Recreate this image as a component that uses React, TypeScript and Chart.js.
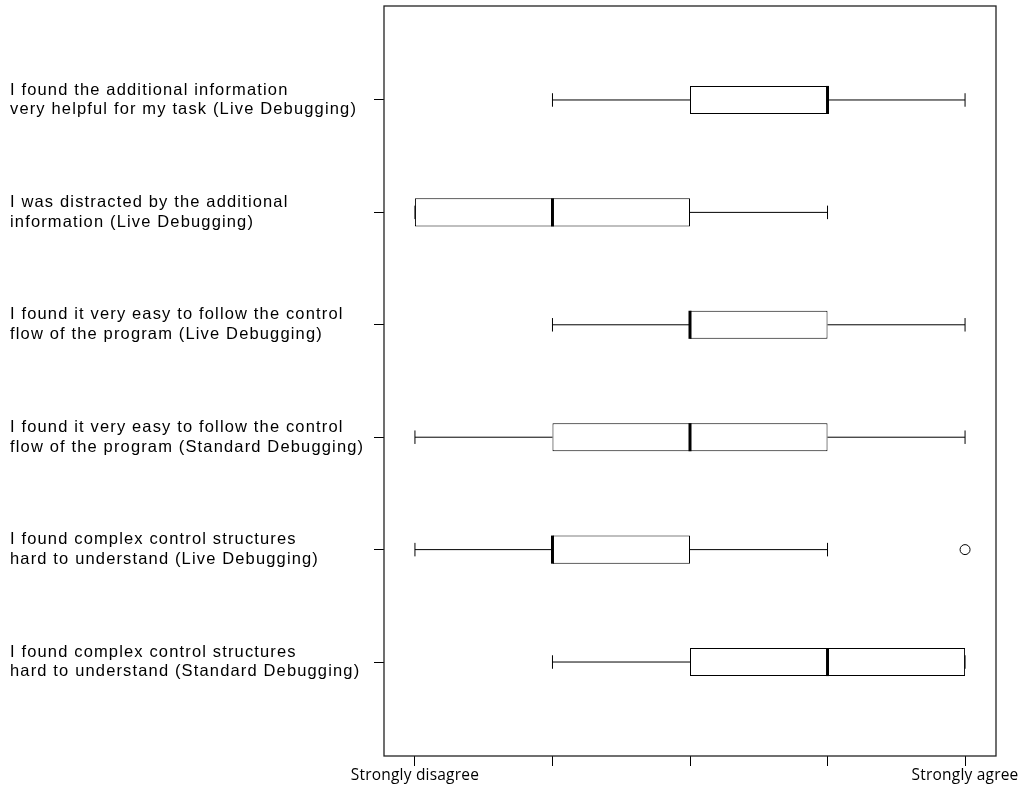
import { useEffect, useRef } from "react";
import { Chart, registerables } from "chart.js";

Chart.register(...registerables);

const categories: string[][] = [
  ["I found the additional information", "very helpful for my task (Live Debugging)"],
  ["I was distracted by the additional", "information (Live Debugging)"],
  ["I found it very easy to follow the control", "flow of the program (Live Debugging)"],
  ["I found it very easy to follow the control", "flow of the program (Standard Debugging)"],
  ["I found complex control structures", "hard to understand (Live Debugging)"],
  ["I found complex control structures", "hard to understand (Standard Debugging)"],
];
const positions = [1, 2, 3, 4, 5, 6];
const whiskerLow = [2, 1, 2, 1, 1, 2];
const q1 = [3, 1, 3, 2, 2, 3];
const median = [4, 2, 3, 3, 2, 4];
const q3 = [4, 3, 4, 4, 3, 5];
const whiskerHigh = [5, 4, 5, 5, 4, 5];
const outlierPos = [5];
const outlierVal = [5];
const xTickValues = [1, 2, 3, 4, 5];
const xTickLabels = ["Strongly disagree", "", "", "", "Strongly agree"];

const boxPartsPlugin = {
  id: "boxParts",
  beforeDraw(chart: any) {
    chart.ctx.letterSpacing = "1.15px";
  },
  beforeDatasetsDraw(chart: any) {
    chart.ctx.letterSpacing = "0px";
  },
  afterDatasetsDraw(chart: any) {
    const { ctx } = chart;
    const x = chart.scales.x;
    const y = chart.scales.y;
    ctx.save();
    ctx.strokeStyle = "#000";
    positions.forEach((p, i) => {
      const py = y.getPixelForValue(p);
      const capH = Math.abs(y.getPixelForValue(p + 0.06) - py);
      const boxH = Math.abs(y.getPixelForValue(p + 0.125) - py);
      const xl = x.getPixelForValue(whiskerLow[i]);
      const xq1 = x.getPixelForValue(q1[i]);
      const xq3 = x.getPixelForValue(q3[i]);
      const xh = x.getPixelForValue(whiskerHigh[i]);
      const xm = x.getPixelForValue(median[i]);
      ctx.lineWidth = 1;
      ctx.beginPath();
      ctx.moveTo(xl, py);
      ctx.lineTo(xq1, py);
      ctx.moveTo(xq3, py);
      ctx.lineTo(xh, py);
      ctx.moveTo(xl, py - capH);
      ctx.lineTo(xl, py + capH);
      ctx.moveTo(xh, py - capH);
      ctx.lineTo(xh, py + capH);
      ctx.stroke();
      ctx.lineWidth = 3;
      ctx.beginPath();
      ctx.moveTo(xm, py - boxH);
      ctx.lineTo(xm, py + boxH);
      ctx.stroke();
    });
    const a = chart.chartArea;
    ctx.lineWidth = 1.3;
    ctx.strokeStyle = "#222";
    ctx.strokeRect(a.left, a.top, a.right - a.left, a.bottom - a.top);
    ctx.restore();
    ctx.letterSpacing = "0.2px";
  },
  afterDraw(chart: any) {
    chart.ctx.letterSpacing = "0px";
  },
};

export default function App() {
  const ref = useRef<HTMLCanvasElement | null>(null);
  useEffect(() => {
    if (!ref.current) return;
    const chart = new Chart(ref.current, {
      type: "bar",
      data: {
        datasets: [
          {
            type: "bar",
            data: positions.map((p, i) => ({ y: p, x: [q1[i], q3[i]] })) as any,
            backgroundColor: "#fff",
            borderColor: "#000",
            borderWidth: 1,
            borderSkipped: false,
            barPercentage: 0.25,
            categoryPercentage: 1,
          } as any,
          {
            type: "scatter",
            data: outlierPos.map((p, i) => ({ x: outlierVal[i], y: p })),
            pointRadius: 5,
            pointStyle: "circle",
            borderColor: "#000",
            backgroundColor: "rgba(0,0,0,0)",
            borderWidth: 1,
            showLine: false,
          } as any,
        ],
      },
      options: {
        animation: false,
        responsive: true,
        maintainAspectRatio: false,
        indexAxis: "y",
        layout: { padding: { left: 10, top: 6, right: 22, bottom: 0 } },
        plugins: { legend: { display: false }, tooltip: { enabled: false } },
        scales: {
          x: {
            type: "linear",
            min: 0.775,
            max: 5.225,
            offset: false,
            afterBuildTicks: (s: any) => {
              s.ticks = xTickValues.map((v) => ({ value: v }));
            },
            afterFit: (s: any) => {
              s.height = 31;
              s.paddingLeft = 0;
              s.paddingRight = 0;
            },
            grid: { drawOnChartArea: false, offset: false, tickLength: 10, color: "#000", lineWidth: 1 },
            border: { display: false },
            ticks: {
              autoSkip: false,
              maxRotation: 0,
              padding: 0,
              z: 1,
              color: "#000",
              font: { family: "'Open Sans', 'Noto Sans', sans-serif", size: 15.5 },
              callback: (v: any) => xTickLabels[xTickValues.indexOf(Number(v))],
            },
          },
          y: {
            type: "linear",
            reverse: true,
            min: 0.164,
            max: 6.836,
            offset: false,
            afterBuildTicks: (s: any) => {
              s.ticks = positions.map((v) => ({ value: v }));
            },
            afterFit: (s: any) => {
              s.width = 374;
              s.paddingTop = 0;
              s.paddingBottom = 0;
            },
            grid: { drawOnChartArea: false, offset: false, tickLength: 10, color: "#000", lineWidth: 1 },
            border: { display: false },
            ticks: {
              autoSkip: false,
              crossAlign: "far",
              color: "#000",
              font: { family: "'Liberation Sans', Arial, sans-serif", size: 16.5, lineHeight: 1.2 },
              callback: (v: any) => categories[positions.indexOf(Number(v))],
            },
          },
        } as any,
      },
      plugins: [boxPartsPlugin as any],
    });
    return () => chart.destroy();
  }, []);
  return (
    <div style={{ position: "fixed", left: 0, top: 0, width: 1018, height: 787, background: "#fff" }}>
      <canvas ref={ref} />
    </div>
  );
}
